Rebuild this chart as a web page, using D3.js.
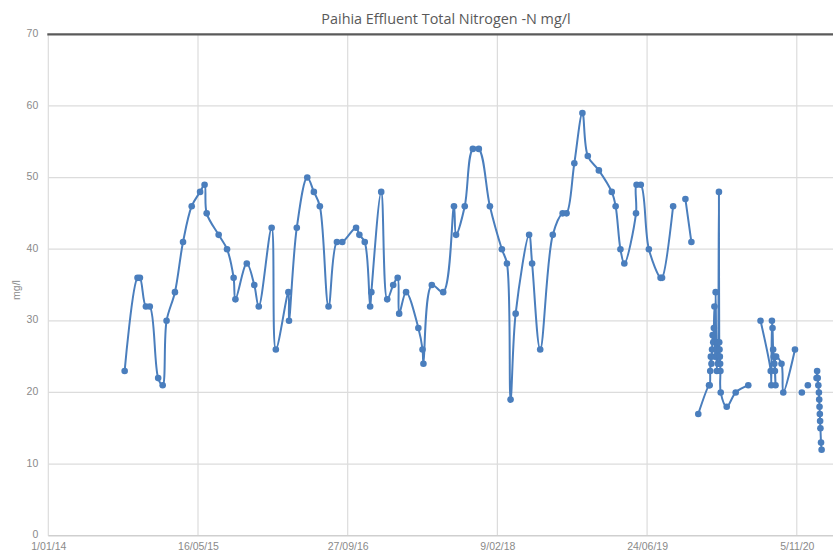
<!DOCTYPE html>
<html>
<head>
<meta charset="utf-8">
<script src="https://cdn.jsdelivr.net/npm/d3@7"></script>
<style>
  html, body { margin: 0; padding: 0; background: #fff; }
  svg { display: block; }
</style>
</head>
<body>
<svg id="chart" width="833" height="553"></svg>
<script>
const chartTitle = "Paihia Effluent Total Nitrogen -N mg/l";
const yAxisLabel = "mg/l";
const yTicks = [0, 10, 20, 30, 40, 50, 60, 70];
const xTickDates = ["2014-01-01", "2015-05-16", "2016-09-27", "2018-02-09", "2019-06-24", "2020-11-05"];
const xTickLabels = ["1/01/14", "16/05/15", "27/09/16", "9/02/18", "24/06/19", "5/11/20"];

const sampleDates = [
  "2014-09-13","2014-10-26","2014-11-03","2014-11-23","2014-12-06","2015-01-03","2015-01-18","2015-01-31",
  "2015-02-28","2015-03-27","2015-04-25","2015-05-23","2015-06-07","2015-06-14","2015-07-24","2015-08-21",
  "2015-09-12","2015-09-18","2015-10-26","2015-11-20","2015-12-05","2016-01-17","2016-01-31","2016-03-13",
  "2016-03-15","2016-04-10","2016-05-15","2016-06-06","2016-06-26","2016-07-25","2016-08-22","2016-09-09",
  "2016-10-25","2016-11-05","2016-11-23","2016-12-11","2016-12-15","2017-01-17","2017-02-06","2017-02-26",
  "2017-03-13","2017-03-18","2017-04-10","2017-05-21","2017-06-04","2017-06-07","2017-07-05","2017-08-12",
  "2017-09-17","2017-09-24","2017-10-23","2017-11-19","2017-12-09","2018-01-15","2018-02-24","2018-03-13",
  "2018-03-25","2018-04-11","2018-05-26","2018-06-05","2018-07-02","2018-08-13","2018-09-15","2018-09-28",
  "2018-10-24","2018-11-20","2018-12-08","2019-01-14","2019-02-26","2019-03-11","2019-03-27","2019-04-09",
  "2019-05-18","2019-05-20","2019-06-03","2019-06-30","2019-08-08","2019-08-13","2019-09-19","2019-10-10",
  "2019-10-30","2019-11-19","2019-11-30","2019-12-12","2020-01-17","2020-01-19","2020-01-21","2020-01-23",
  "2020-01-25","2020-01-27","2020-01-29","2020-01-31","2020-02-02","2020-02-04","2020-02-06","2020-02-08",
  "2020-02-10","2020-02-12","2020-02-14","2020-02-16","2020-02-19","2020-02-20","2020-02-21","2020-02-22",
  "2020-02-23","2020-02-24","2020-02-25","2020-03-16","2020-04-15","2020-05-27","2020-06-15","2020-07-07",
  "2020-08-10","2020-08-12","2020-08-14","2020-08-16","2020-08-18","2020-08-20","2020-08-22","2020-08-24",
  "2020-08-26","2020-08-28","2020-09-15","2020-09-21","2020-10-30","2020-11-10","2020-11-22","2020-12-01",
  "2020-12-12","2020-12-25","2021-01-10","2021-01-12","2021-01-14","2021-01-16","2021-01-18","2021-01-19",
  "2021-01-20","2021-01-21","2021-01-22","2021-01-23","2021-01-25","2021-01-27"
];
const nitrogenValues = [
  23,36,36,32,32,22,21,30,
  34,41,46,48,49,45,42,40,
  36,33,38,35,32,43,26,34,
  30,43,50,48,46,32,41,41,
  43,42,41,32,34,48,33,35,
  36,31,34,29,26,24,35,34,
  46,42,46,54,54,46,40,38,
  19,31,42,38,26,42,45,45,
  52,59,53,51,48,46,40,38,
  45,49,49,40,36,36,46,null,
  47,41,null,17,21,21,23,25,
  24,26,28,27,29,32,25,34,
  26,23,27,24,48,27,26,25,
  24,23,20,18,20,21,null,30,
  23,21,30,29,26,25,24,23,
  21,25,24,20,26,null,20,null,
  21,null,22,23,22,21,20,19,
  18,17,16,15,13,12
];

const W = 833, H = 553;
const svg = d3.select("#chart");
const parse = d3.utcParse("%Y-%m-%d");
const tickFont = "Liberation Sans, Arial, sans-serif";

const x = d3.scaleUtc()
  .domain([parse("2014-01-01"), parse("2021-03-06")])
  .range([48.3, 833]);
const y = d3.scaleLinear().domain([0, 70]).range([535.7, 34.3]);

const data = sampleDates.map((d, i) => ({ date: parse(d), v: nitrogenValues[i] }));

// horizontal gridlines
svg.append("g").selectAll("line")
  .data(yTicks.filter(t => t > 0 && t < 70))
  .join("line")
  .attr("x1", x.range()[0]).attr("x2", W)
  .attr("y1", d => y(d)).attr("y2", d => y(d))
  .attr("stroke", "#dcdcdc").attr("stroke-width", 1.2);

// vertical gridlines
svg.append("g").selectAll("line")
  .data(xTickDates)
  .join("line")
  .attr("x1", d => x(parse(d))).attr("x2", d => x(parse(d)))
  .attr("y1", y(70)).attr("y2", y(0))
  .attr("stroke", "#dcdcdc").attr("stroke-width", 1.2);

// bottom axis line
svg.append("line")
  .attr("x1", x.range()[0]).attr("x2", W)
  .attr("y1", y(0)).attr("y2", y(0))
  .attr("stroke", "#cfcfcf").attr("stroke-width", 1.5);

// top dark line at 70
svg.append("line")
  .attr("x1", x.range()[0] - 1).attr("x2", W)
  .attr("y1", y(70)).attr("y2", y(70))
  .attr("stroke", "#5a5a5a").attr("stroke-width", 2.2);

// y tick labels
const yAxis = d3.axisLeft(y).tickValues(yTicks).tickSize(0).tickPadding(10);
const yg = svg.append("g").attr("transform", `translate(${x.range()[0]},0)`).call(yAxis);
yg.select(".domain").remove();
yg.selectAll("text").attr("font-family", tickFont).attr("font-size", 10.5)
  .attr("dy", "0.2em").attr("fill", "#8a8a8a");

// x tick labels
const xAxis = d3.axisBottom(x).tickValues(xTickDates.map(parse))
  .tickFormat((d, i) => xTickLabels[i]).tickSize(0).tickPadding(6.8);
const xg = svg.append("g").attr("transform", `translate(0,${y(0)})`).call(xAxis);
xg.select(".domain").remove();
xg.selectAll("text").attr("font-family", tickFont).attr("font-size", 10.5).attr("fill", "#8a8a8a");

// title
svg.append("text")
  .attr("x", 446).attr("y", 24)
  .attr("text-anchor", "middle")
  .attr("font-family", "Open Sans, sans-serif").attr("font-size", 14.4)
  .attr("fill", "#595959")
  .text(chartTitle);

// y axis label
svg.append("text")
  .attr("transform", "translate(20,290) rotate(-90)")
  .attr("text-anchor", "middle")
  .attr("font-family", tickFont).attr("font-size", 10.5)
  .attr("fill", "#8a8a8a")
  .text(yAxisLabel);

const color = "#4a7ebd";
const line = d3.line()
  .defined(d => d.v != null)
  .x(d => x(d.date)).y(d => y(d.v))
  .curve(d3.curveCatmullRom.alpha(0.5));

svg.append("path")
  .datum(data)
  .attr("d", line)
  .attr("fill", "none")
  .attr("stroke", color)
  .attr("stroke-width", 2)
  .attr("stroke-linejoin", "round");

svg.append("g").selectAll("circle")
  .data(data.filter(d => d.v != null))
  .join("circle")
  .attr("cx", d => x(d.date)).attr("cy", d => y(d.v))
  .attr("r", 3.3)
  .attr("fill", color);
</script>
</body>
</html>
